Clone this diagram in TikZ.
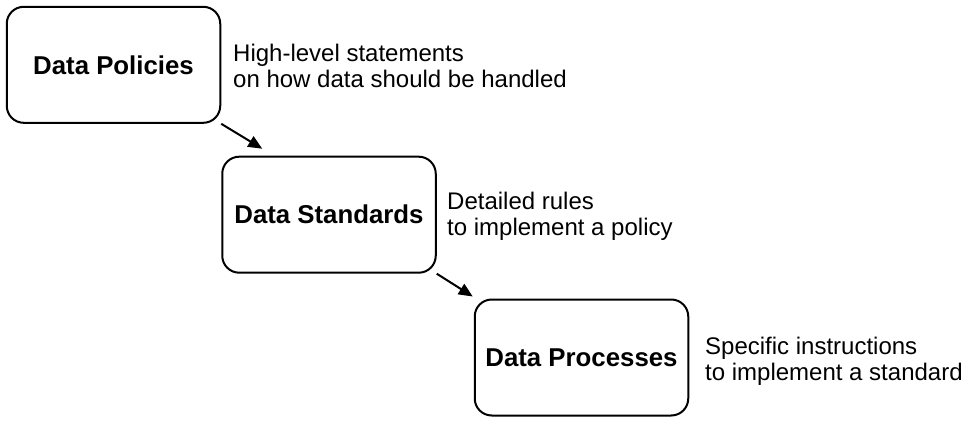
\documentclass[tikz,border=0pt]{standalone}
\usepackage{fontspec}
\setmainfont{Liberation Sans}
\usetikzlibrary{arrows.meta,calc}
\tikzset{
  stagebox/.style={draw=black,line width=2pt,rounded corners=17pt,minimum width=213.5pt,minimum height=116pt,inner sep=0pt,font=\fontsize{25.8}{30}\selectfont\bfseries},
  note/.style={anchor=north west,inner sep=0pt,align=left,font=\fontsize{24}{26}\selectfont},
  arr/.style={line width=2pt,-{Triangle[length=14pt,width=12pt]}}
}
\begin{document}
\begin{tikzpicture}[x=1pt,y=-1pt]
\useasboundingbox (0,0) rectangle (970,423);
\node[stagebox] (p1) at (113.5,64.8) {Data Policies};
\node[stagebox] (p2) at (329,214.7) {Data Standards};
\node[stagebox] (p3) at (581.5,357.5) {Data Processes};
\node[note] (n1) at (233,43.8) {High-level statements\\on how data should be handled};
\node[note] (n2) at (447,192) {Detailed rules\\to implement a policy};
\node[note] (n3) at (705,336.5) {Specific instructions\\to implement a standard};
\draw[arr] (p1.south east) -- ($(p2.north west)+(41,-7)$);
\draw[arr] (p2.south east) -- ($(p3.north west)+(-1,-2)$);
\end{tikzpicture}
\end{document}
